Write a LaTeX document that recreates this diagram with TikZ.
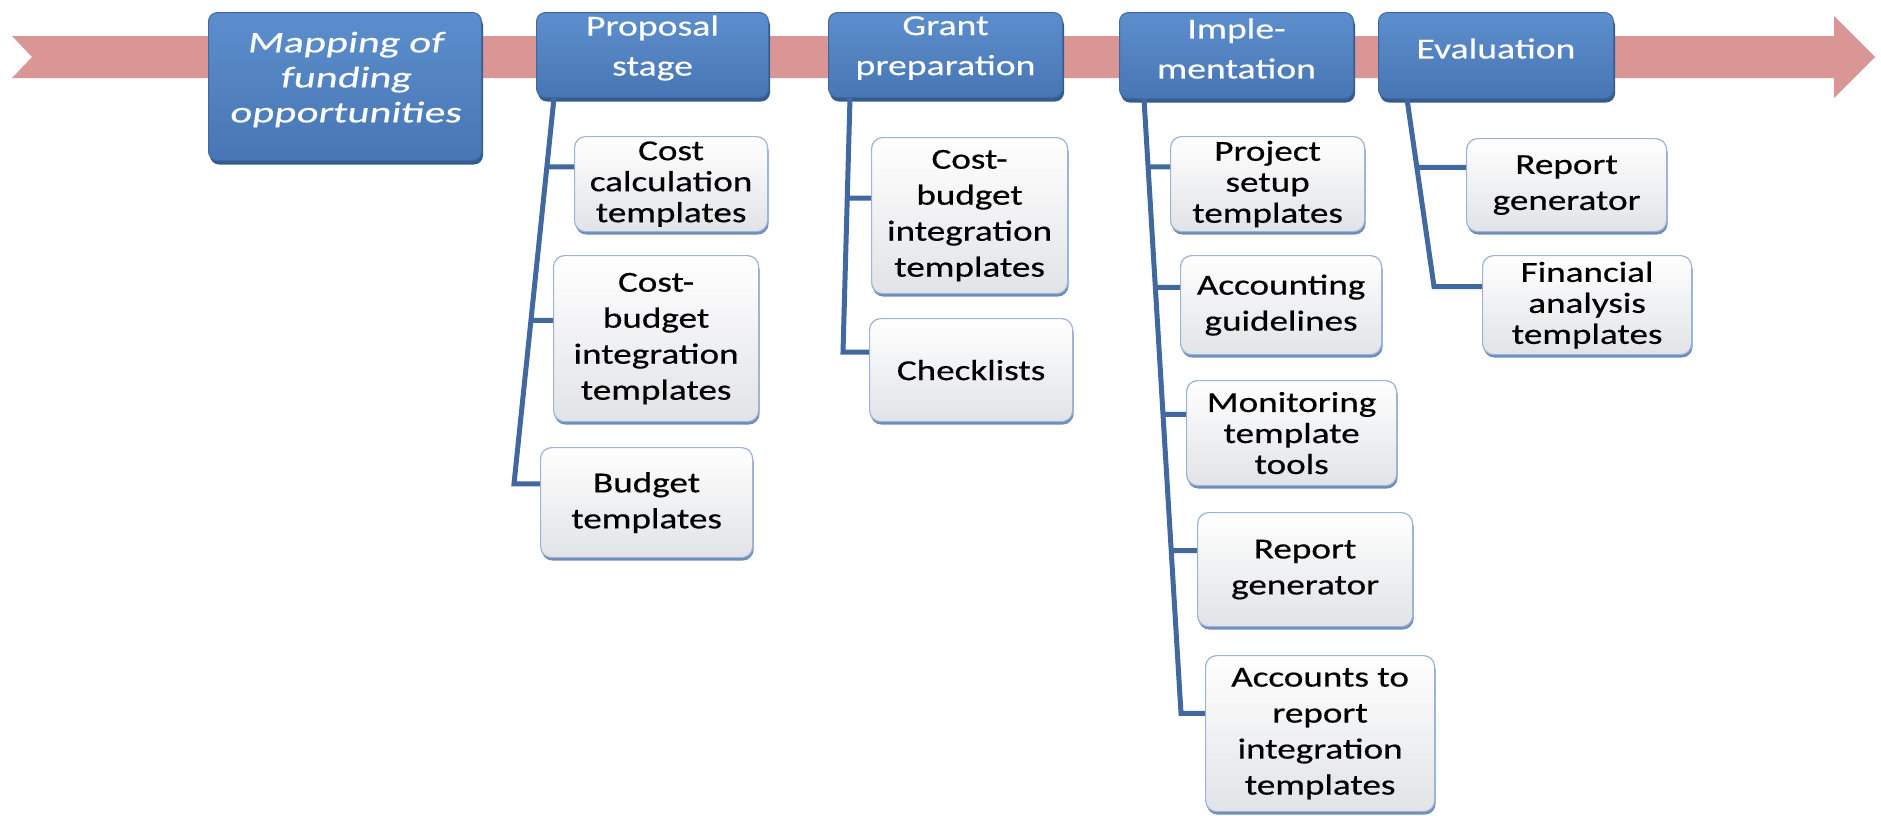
\documentclass[tikz,border=0pt]{standalone}
\usepackage{fontspec}
\usepackage{tikz}
\usetikzlibrary{shadows}
\usepackage{xcolor}
\newfontfamily\stagefont[FakeStretch=1.3,FakeBold=0.3]{Carlito}
\newfontfamily\mapfont[FakeStretch=1.4,FakeSlant=0.15,FakeBold=0.3]{Carlito}
\newfontfamily\itemfont[FakeStretch=1.28,FakeBold=0.5]{Carlito}
\definecolor{bandred}{HTML}{D99694}
\definecolor{stagetop}{HTML}{5C8ECD}
\definecolor{stagebot}{HTML}{4876B4}
\definecolor{stageedge}{HTML}{41699F}
\definecolor{stageshade}{HTML}{355C8E}
\definecolor{itembot}{HTML}{E2E3E6}
\definecolor{itemedge}{HTML}{9DB4D8}
\definecolor{itemshade}{HTML}{6E8DBA}
\definecolor{linkblue}{HTML}{41699F}
\tikzset{stage box/.style={
          draw=stageedge, line width=1pt, rounded corners=9pt,
          top color=stagetop, bottom color=stagebot,
          anchor=north west, inner sep=0pt,
          drop shadow={shadow xshift=1.5pt, shadow yshift=-4pt, fill=stageshade, opacity=1}
          },
        stage label/.style={
          text=white, align=center, inner sep=0pt, yshift=7pt,
          font=\stagefont\fontsize{29}{40}\selectfont
          },
        map label/.style={stage label, font=\mapfont\fontsize{30}{35}\selectfont},
        item box/.style={
          draw=itemedge, line width=1.2pt, rounded corners=11pt,
          top color=white, bottom color=itembot,
          align=center, anchor=north west, inner sep=0pt,
          font=\itemfont\fontsize{29}{36}\selectfont,
          drop shadow={shadow xshift=1pt, shadow yshift=-3pt, fill=itemshade, opacity=1}
          },
        tight/.style={font=\itemfont\fontsize{29}{31}\selectfont},
        branch/.style={draw=linkblue, line width=5pt},
}

\begin{document}
\begin{tikzpicture}[x=1pt, y=-1pt]
      \useasboundingbox (0,0) rectangle (1881,815);
      % TIMELINE BAND
      \fill[bandred] (12,36) -- (1834,36) -- (1834,16) -- (1875,57) -- (1834,98)
        -- (1834,78) -- (12,78) -- (32,57) -- cycle;

      % STAGES
      \node[stage box, minimum width=273pt, minimum height=148pt, label={[map label]center:{Mapping of\\funding\\opportunities}}] (map) at (208,12) {};
      \node[stage box, minimum width=232pt, minimum height=85pt, label={[stage label]center:{Proposal\\stage}}] (prop) at (536,12) {};
      \node[stage box, minimum width=234pt, minimum height=85pt, label={[stage label]center:{Grant\\preparation}}] (grant) at (828,12) {};
      \node[stage box, minimum width=234pt, minimum height=86pt, label={[stage label]center:{Imple-\\mentation}}] (impl) at (1119,12) {};
      \node[stage box, minimum width=235pt, minimum height=86pt, label={[stage label]center:Evaluation}] (eval) at (1378,12) {};

      % PROPOSAL STAGE
      \node[item box, tight, minimum width=193pt, minimum height=95pt] (p1) at (574,136) {Cost\\calculation\\templates};
      \node[item box, minimum width=205pt, minimum height=166pt] (p2) at (553,255) {Cost-\\budget\\integration\\templates};
      \node[item box, minimum width=212pt, minimum height=110pt] (p3) at (540,447) {Budget\\templates};
      \coordinate (ptop) at ([xshift=18pt]prop.south west);
      \coordinate (pbot) at ([xshift=-26pt]p3.170);
      \draw[branch] (ptop) -- (pbot) -- (p3.170);
      \draw[branch] (intersection of ptop--pbot and p1.170--p1.10) -- (p1.170);
      \draw[branch] (intersection of ptop--pbot and p2.170--p2.10) -- (p2.170);

      % GRANT PREPARATION
      \node[item box, minimum width=196pt, minimum height=156pt] (g1) at (871,137) {Cost-\\budget\\integration\\templates};
      \node[item box, minimum width=203pt, minimum height=103pt] (g2) at (869,318) {Checklists};
      \coordinate (gtop) at ([xshift=22pt]grant.south west);
      \coordinate (gbot) at ([xshift=-26pt]g2.170);
      \draw[branch] (gtop) -- (gbot) -- (g2.170);
      \draw[branch] (intersection of gtop--gbot and g1.170--g1.10) -- (g1.170);

      % IMPLEMENTATION
      \node[item box, tight, minimum width=194pt, minimum height=95pt] (i1) at (1170,136) {Project\\setup\\templates};
      \node[item box, minimum width=201pt, minimum height=99pt] (i2) at (1180,255) {Accounting\\guidelines};
      \node[item box, tight, minimum width=210pt, minimum height=105pt] (i3) at (1186,380) {Monitoring\\template\\tools};
      \node[item box, minimum width=215pt, minimum height=114pt] (i4) at (1197,512) {Report\\generator};
      \node[item box, minimum width=229pt, minimum height=156pt] (i5) at (1205,655) {Accounts to\\report\\integration\\templates};
      \coordinate (itop) at ([xshift=25pt]impl.south west);
      \coordinate (ibot) at ([xshift=-24pt]i5.170);
      \draw[branch] (itop) -- (ibot) -- (i5.170);
      \draw[branch] (intersection of itop--ibot and i1.170--i1.10) -- (i1.170);
      \draw[branch] (intersection of itop--ibot and i2.170--i2.10) -- (i2.170);
      \draw[branch] (intersection of itop--ibot and i3.170--i3.10) -- (i3.170);
      \draw[branch] (intersection of itop--ibot and i4.170--i4.10) -- (i4.170);

      % EVALUATION
      \node[item box, minimum width=200pt, minimum height=93pt] (e1) at (1466,138) {Report\\generator};
      \node[item box, tight, minimum width=209pt, minimum height=99pt] (e2) at (1482,255) {Financial\\analysis\\templates};
      \coordinate (etop) at ([xshift=29pt]eval.south west);
      \coordinate (ebot) at ([xshift=-48pt]e2.170);
      \draw[branch] (etop) -- (ebot) -- (e2.170);
      \draw[branch] (intersection of etop--ebot and e1.170--e1.10) -- (e1.170);

\end{tikzpicture}
\end{document}
